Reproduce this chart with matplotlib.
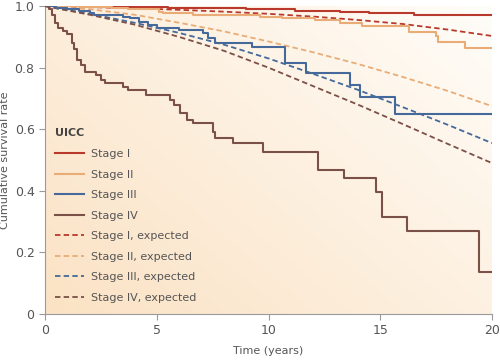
import numpy as np
import matplotlib
matplotlib.use("Agg")
import matplotlib.pyplot as plt
from matplotlib.colors import LinearSegmentedColormap

# observed (Kaplan-Meier) step curves: time (years), survival
t1 = [0, 2.0, 4.5, 5.5, 9.0, 11.2, 13.2, 14.5, 16.5, 20]
s1 = [1.0, 0.998, 0.996, 0.994, 0.99, 0.985, 0.98, 0.977, 0.97, 0.97]

t2 = [0, 1.5, 3.0, 3.7, 5.1, 5.3, 6.6, 9.6, 10.6, 12.1, 13.2, 14.2, 16.3, 17.5, 17.6, 18.8, 20]
s2 = [1.0, 0.997, 0.994, 0.99, 0.98, 0.977, 0.97, 0.966, 0.96, 0.955, 0.946, 0.936, 0.916, 0.903, 0.883, 0.864, 0.864]

t3 = [0, 0.5, 1.0, 1.5, 2.0, 2.2, 3.5, 3.8, 4.2, 4.6, 5.0, 6.0, 7.05, 7.3, 7.6, 9.25, 10.75, 11.7, 13.65, 14.1, 15.65, 20]
s3 = [1.0, 0.995, 0.99, 0.985, 0.977, 0.97, 0.965, 0.96, 0.948, 0.94, 0.93, 0.922, 0.912, 0.896, 0.88, 0.867, 0.815, 0.782, 0.743, 0.705, 0.649, 0.649]

t4 = [0, 0.2, 0.3, 0.45, 0.6, 0.8, 1.0, 1.2, 1.3, 1.45, 1.6, 1.8, 2.3, 2.5, 2.7, 3.5, 3.7, 4.5,
      5.6, 5.75, 6.05, 6.35, 6.6, 7.5, 7.6, 8.4, 9.75, 12.2, 13.4, 14.8, 15.1, 16.2, 19.4, 20]
s4 = [1.0, 0.99, 0.97, 0.945, 0.93, 0.92, 0.91, 0.88, 0.86, 0.825, 0.81, 0.786, 0.776, 0.76, 0.75, 0.737, 0.727, 0.71,
      0.695, 0.68, 0.653, 0.63, 0.62, 0.59, 0.571, 0.555, 0.526, 0.468, 0.44, 0.396, 0.315, 0.27, 0.137, 0.137]

# expected survival curves
te = [0, 2, 4, 6, 8, 10, 12, 14, 16, 18, 20]
e1 = [1.0, 0.997, 0.993, 0.988, 0.982, 0.975, 0.966, 0.955, 0.942, 0.924, 0.903]
e2 = [1.0, 0.99, 0.972, 0.946, 0.918, 0.885, 0.85, 0.812, 0.77, 0.725, 0.675]
e3 = [1.0, 0.975, 0.946, 0.913, 0.875, 0.83, 0.78, 0.728, 0.672, 0.615, 0.555]
e4 = [1.0, 0.972, 0.94, 0.9, 0.855, 0.8, 0.74, 0.68, 0.617, 0.553, 0.49]

labels = ["Stage I", "Stage II", "Stage III", "Stage IV"]
colors = ["#b93a2c", "#e9ac76", "#44699a", "#7b5047"]

fig = plt.figure(figsize=(5, 3.6), dpi=100)
ax = fig.add_axes([0.09, 0.128, 0.894, 0.855])

# background gradient: peach bottom-left to near white top-right
gx, gy = np.meshgrid(np.linspace(0, 1, 200), np.linspace(0, 1, 200))
g = np.clip((1 - gx) * 0.55 + (1 - gy) * 0.45, 0, 1)
cmap = LinearSegmentedColormap.from_list("bg", ["#fffdf9", "#fbe2c4"])
ax.imshow(g, extent=[0, 20, 0, 1], origin="lower", aspect="auto", cmap=cmap, zorder=0)

for t, s, c, lab in zip([t1, t2, t3, t4], [s1, s2, s3, s4], colors, labels):
    ax.plot(t, s, drawstyle="steps-post", color=c, lw=1.5, label=lab, zorder=3)
for e, c, lab in zip([e1, e2, e3, e4], colors, labels):
    ax.plot(te, e, color=c, lw=1.3, ls=(0, (3, 1.8)), label=lab + ", expected", zorder=2)

ax.set_xlim(0, 20)
ax.set_ylim(0, 1)
ax.set_xticks([0, 5, 10, 15, 20])
ax.set_yticks([0, 0.2, 0.4, 0.6, 0.8, 1.0])
ax.set_yticklabels(["0", "0.2", "0.4", "0.6", "0.8", "1.0"])
for sp in ["top", "right"]:
    ax.spines[sp].set_visible(False)
for sp in ["left", "bottom"]:
    ax.spines[sp].set_color("#9a9a9a")
ax.tick_params(colors="#9a9a9a", labelcolor="#555555", labelsize=9, length=4, width=0.8)
ax.set_xlabel("Time (years)", color="#555555", fontsize=8, labelpad=6)
ax.set_ylabel("Cumulative survival rate", color="#555555", fontsize=8)
ax.yaxis.set_label_coords(-0.078, 0.5)

leg = ax.legend(loc="upper left", bbox_to_anchor=(0.0, 0.635), frameon=False, fontsize=8,
                title="UICC", handlelength=2.6, handletextpad=0.6, labelspacing=0.95,
                alignment="left", labelcolor="#555555")
leg.get_title().set_fontweight("bold")
leg.get_title().set_fontsize(8)
leg.get_title().set_color("#444444")

fig.savefig("out.png", dpi=100)
